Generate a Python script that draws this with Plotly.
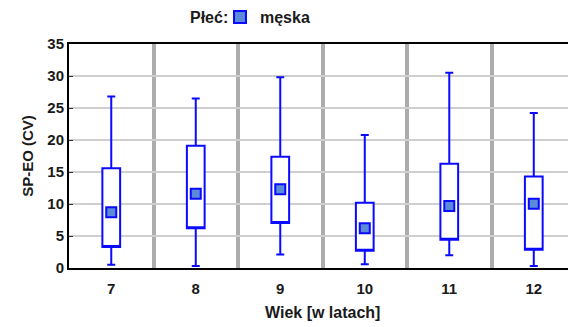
import plotly.graph_objects as go

ages = [7, 8, 9, 10, 11, 12]
whisker_low = [0.5, 0.3, 2.1, 0.6, 2.0, 0.3]
box_low = [3.3, 6.2, 7.05, 2.7, 4.4, 2.85]
means = [8.7, 11.6, 12.3, 6.2, 9.7, 10.05]
box_high = [15.6, 19.1, 17.4, 10.2, 16.3, 14.3]
whisker_high = [26.8, 26.5, 29.8, 20.8, 30.5, 24.2]
tick_labels = [str(a) for a in ages]
y_ticks = [0, 5, 10, 15, 20, 25, 30, 35]

BLUE = "#0a0aff"
FILL = "#5a8ad8"
FONT = "Liberation Sans, Arial, sans-serif"

fig = go.Figure()
fig.add_trace(go.Box(
    x=ages, q1=box_low, median=box_low, q3=box_high,
    lowerfence=whisker_low, upperfence=whisker_high,
    width=0.21, whiskerwidth=0.45,
    line=dict(color=BLUE, width=2), fillcolor="white",
    showlegend=False, hoverinfo="skip",
))
fig.add_trace(go.Scatter(
    x=ages, y=means, mode="markers", name="męska",
    marker=dict(symbol="square", size=10, color=FILL, line=dict(color=BLUE, width=2)),
))

sep = [a + 0.5 for a in ages[:-1]]
fig.update_layout(
    width=568, height=327,
    margin=dict(l=69, r=0, t=43, b=59),
    paper_bgcolor="white", plot_bgcolor="white",
    font=dict(family=FONT, size=14, color="#1a1a1a"),
    showlegend=True,
    legend=dict(
        orientation="h", x=0.3026, xanchor="left", y=1.12, yanchor="middle",
        font=dict(size=16, weight="bold"),
        itemwidth=30, itemsizing="constant",
    ),
    xaxis=dict(
        range=[6.5, 12.405], tickvals=ages, ticktext=tick_labels,
        showgrid=False, zeroline=False, ticks="",
        showline=True, linecolor="black", linewidth=2, mirror=True,
        tickfont=dict(size=15, weight="bold"),
        ticklabelstandoff=6,
        minor=dict(tickvals=sep, showgrid=True, gridcolor="#acacac", gridwidth=4, ticks=""),
    ),
    yaxis=dict(
        range=[0, 35], tickvals=y_ticks,
        showgrid=True, gridcolor="#cfcfcf", gridwidth=2, zeroline=False,
        showline=True, linecolor="black", linewidth=2,
        ticks="inside", ticklen=4, tickcolor="#333",
        tickfont=dict(size=15, weight="bold"),
        title=dict(text="SP-EO (CV)", font=dict(size=15, weight="bold"), standoff=10),
    ),
)
fig.add_annotation(
    x=9.5, xref="x", y=-0.2, yref="paper", yanchor="middle",
    text="<b>Wiek [w latach]</b>", showarrow=False, font=dict(size=16),
)
fig.add_annotation(
    x=0.3226, xref="paper", xanchor="right", y=1.12, yref="paper", yanchor="middle",
    text="<b>Płeć:</b>", showarrow=False, font=dict(size=16),
)
fig.write_html("out.html")
